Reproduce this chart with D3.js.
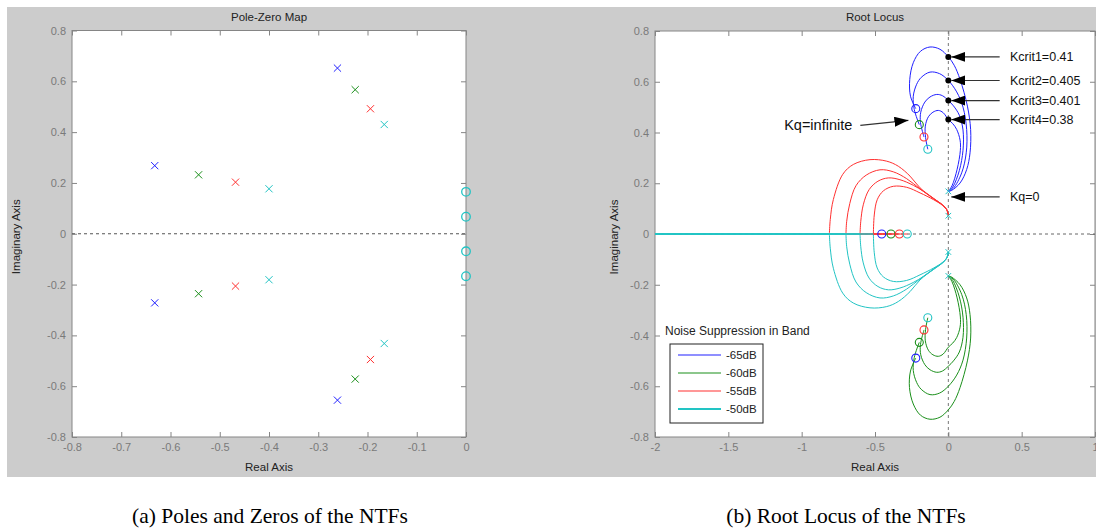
<!DOCTYPE html>
<html>
<head>
<meta charset="utf-8">
<script src="https://cdn.jsdelivr.net/npm/d3@7.9.0/dist/d3.min.js"></script>
<style>
  body { margin: 0; background: #fff; }
  svg { display: block; font-family: "Liberation Sans", Arial, sans-serif; }
</style>
</head>
<body>
<svg id="fig" width="1096" height="531"></svg>
<script>
// ---- data ----
const seriesNames = ['-65dB', '-60dB', '-55dB', '-50dB'];

// (a) pole-zero map, one list of poles per NTF
const pzPoles = [
  [[-0.261, 0.652], [-0.632, 0.268], [-0.632, -0.272], [-0.261, -0.655]],
  [[-0.225, 0.567], [-0.543, 0.232], [-0.543, -0.236], [-0.225, -0.572]],
  [[-0.194, 0.492], [-0.468, 0.203], [-0.468, -0.206], [-0.194, -0.495]],
  [[-0.166, 0.430], [-0.400, 0.177], [-0.400, -0.181], [-0.166, -0.432]]
];
const pzZeros = [[0, 0.165], [0, 0.067], [0, -0.069], [0, -0.167]];
const pzXTicks = [-0.8, -0.7, -0.6, -0.5, -0.4, -0.3, -0.2, -0.1, 0];
const yTicks = [-0.8, -0.6, -0.4, -0.2, 0, 0.2, 0.4, 0.6, 0.8];

// (b) root locus
const rlXTicks = [-2, -1.5, -1, -0.5, 0, 0.5, 1];
const rlPoles = [[0, 0.168], [0, 0.072], [0, -0.071], [0, -0.165]];
const rlZerosUpper = [[-0.222, 0.494], [-0.198, 0.431], [-0.166, 0.382], [-0.140, 0.334]];
const rlZerosLower = [[-0.222, -0.489], [-0.198, -0.427], [-0.166, -0.378], [-0.140, -0.330]];
const rlZerosReal = [-0.454, -0.391, -0.334, -0.280];
const breakIn = [-0.811, -0.698, -0.602, -0.511];

// upper right branches (pole 0+0.168j -> upper zeros)
const branchUR = [
  [[0,0.168],[0.023,0.172],[0.08,0.201],[0.125,0.254],[0.148,0.32],[0.152,0.412],[0.13,0.504],[0.08,0.609],[0.04,0.665],[0,0.698],[-0.057,0.728],[-0.125,0.737],[-0.19,0.72],[-0.239,0.675],[-0.263,0.609],[-0.258,0.543],[-0.222,0.494]],
  [[0,0.168],[0.034,0.18],[0.091,0.241],[0.122,0.32],[0.125,0.412],[0.1,0.5],[0.057,0.56],[0,0.605],[-0.06,0.632],[-0.125,0.638],[-0.185,0.617],[-0.216,0.59],[-0.239,0.543],[-0.232,0.49],[-0.198,0.431]],
  [[0,0.168],[0.03,0.185],[0.075,0.25],[0.1,0.33],[0.1,0.41],[0.075,0.468],[0.035,0.505],[0,0.526],[-0.04,0.545],[-0.079,0.55],[-0.125,0.54],[-0.16,0.52],[-0.188,0.48],[-0.19,0.44],[-0.166,0.382]],
  [[0,0.168],[0.025,0.19],[0.06,0.255],[0.082,0.33],[0.08,0.37],[0.057,0.412],[0.03,0.435],[0,0.451],[-0.035,0.478],[-0.068,0.487],[-0.105,0.48],[-0.136,0.462],[-0.157,0.425],[-0.155,0.38],[-0.14,0.334]]
];
// lower right branches
const branchLR = [
  [[0,-0.165],[0.023,-0.17],[0.08,-0.2],[0.125,-0.252],[0.148,-0.318],[0.152,-0.41],[0.13,-0.5],[0.08,-0.605],[0.04,-0.66],[0,-0.693],[-0.057,-0.722],[-0.125,-0.73],[-0.19,-0.714],[-0.239,-0.67],[-0.265,-0.605],[-0.258,-0.54],[-0.222,-0.489]],
  [[0,-0.165],[0.034,-0.178],[0.091,-0.238],[0.122,-0.318],[0.125,-0.41],[0.1,-0.497],[0.057,-0.556],[0,-0.6],[-0.06,-0.627],[-0.125,-0.633],[-0.185,-0.612],[-0.216,-0.585],[-0.239,-0.538],[-0.232,-0.486],[-0.198,-0.427]],
  [[0,-0.165],[0.03,-0.183],[0.075,-0.248],[0.1,-0.328],[0.1,-0.407],[0.075,-0.465],[0.035,-0.5],[0,-0.521],[-0.04,-0.54],[-0.079,-0.545],[-0.125,-0.535],[-0.16,-0.515],[-0.188,-0.476],[-0.19,-0.436],[-0.166,-0.378]],
  [[0,-0.165],[0.025,-0.188],[0.06,-0.252],[0.082,-0.327],[0.08,-0.367],[0.057,-0.408],[0.03,-0.43],[0,-0.446],[-0.035,-0.473],[-0.068,-0.482],[-0.105,-0.476],[-0.136,-0.458],[-0.157,-0.421],[-0.155,-0.376],[-0.14,-0.33]]
];
// upper left branches (pole 0+0.072j -> real-axis break-in)
const branchUL = [
  [[0,0.072],[-0.011,0.096],[-0.04,0.115],[-0.1,0.14],[-0.193,0.182],[-0.261,0.228],[-0.341,0.267],[-0.42,0.287],[-0.534,0.293],[-0.648,0.274],[-0.72,0.235],[-0.784,0.136],[-0.805,0.057],[-0.811,0]],
  [[0,0.072],[-0.011,0.096],[-0.04,0.115],[-0.1,0.14],[-0.193,0.178],[-0.284,0.218],[-0.375,0.245],[-0.466,0.253],[-0.56,0.232],[-0.63,0.19],[-0.672,0.12],[-0.693,0.05],[-0.698,0]],
  [[0,0.072],[-0.011,0.096],[-0.04,0.114],[-0.1,0.138],[-0.17,0.168],[-0.239,0.192],[-0.33,0.214],[-0.409,0.221],[-0.48,0.208],[-0.54,0.175],[-0.58,0.115],[-0.597,0.05],[-0.602,0]],
  [[0,0.072],[-0.011,0.096],[-0.04,0.113],[-0.1,0.135],[-0.193,0.162],[-0.284,0.184],[-0.375,0.188],[-0.443,0.17],[-0.485,0.135],[-0.505,0.075],[-0.511,0]]
];
// lower left branches
const branchLL = [
  [[0,-0.071],[-0.011,-0.095],[-0.04,-0.114],[-0.1,-0.139],[-0.193,-0.181],[-0.261,-0.227],[-0.341,-0.266],[-0.42,-0.286],[-0.534,-0.291],[-0.648,-0.272],[-0.72,-0.233],[-0.784,-0.135],[-0.805,-0.056],[-0.811,0]],
  [[0,-0.071],[-0.011,-0.095],[-0.04,-0.114],[-0.1,-0.139],[-0.193,-0.177],[-0.284,-0.217],[-0.375,-0.244],[-0.466,-0.252],[-0.56,-0.231],[-0.63,-0.189],[-0.672,-0.119],[-0.693,-0.05],[-0.698,0]],
  [[0,-0.071],[-0.011,-0.095],[-0.04,-0.113],[-0.1,-0.137],[-0.17,-0.167],[-0.239,-0.191],[-0.33,-0.213],[-0.409,-0.22],[-0.48,-0.207],[-0.54,-0.174],[-0.58,-0.114],[-0.597,-0.05],[-0.602,0]],
  [[0,-0.071],[-0.011,-0.095],[-0.04,-0.112],[-0.1,-0.134],[-0.193,-0.161],[-0.284,-0.183],[-0.375,-0.187],[-0.443,-0.169],[-0.485,-0.134],[-0.505,-0.074],[-0.511,0]]
];

const kcritLabels = ['Kcrit1=0.41', 'Kcrit2=0.405', 'Kcrit3=0.401', 'Kcrit4=0.38'];
const kcritIm = [0.698, 0.605, 0.526, 0.451];

// ---- styles ----
const colors = ['#2020ff', '#1a8f1a', '#ff3030', '#22c4c4'];
const axisGray = '#858585';
const textDark = '#222';

const svg = d3.select('#fig');
svg.append('rect').attr('x', 7).attr('y', 7).attr('width', 1089).attr('height', 470).attr('fill', '#cccccc');

const defs = svg.append('defs');
defs.append('marker').attr('id', 'ah')
  .attr('viewBox', '0 0 14 10').attr('refX', 14).attr('refY', 5)
  .attr('markerWidth', 14).attr('markerHeight', 10)
  .attr('markerUnits', 'userSpaceOnUse').attr('orient', 'auto')
  .append('path').attr('d', 'M0,0L14,5L0,10Z').attr('fill', '#000');

const fmt = d => String(+d.toFixed(2));

function panel(x, y, xTicks, title, clipId, ylabelX) {
  const [x0, x1] = x.range();
  const [y1, y0] = y.range();
  svg.append('rect').attr('x', x0).attr('y', y0).attr('width', x1 - x0).attr('height', y1 - y0).attr('fill', '#fff');
  defs.append('clipPath').attr('id', clipId)
    .append('rect').attr('x', x0).attr('y', y0).attr('width', x1 - x0).attr('height', y1 - y0);

  const axes = [
    [d3.axisBottom(x).tickValues(xTicks).tickFormat(fmt), `translate(0,${y1})`],
    [d3.axisTop(x).tickValues(xTicks).tickFormat(''), `translate(0,${y0})`],
    [d3.axisLeft(y).tickValues(yTicks).tickFormat(fmt), `translate(${x0},0)`],
    [d3.axisRight(y).tickValues(yTicks).tickFormat(''), `translate(${x1},0)`]
  ];
  axes.forEach(([ax, tr]) => {
    const g = svg.append('g').attr('transform', tr)
      .call(ax.tickSize(-5).tickPadding(6));
    g.select('.domain').remove();
    g.selectAll('line').attr('stroke', axisGray);
    g.selectAll('text').attr('fill', '#7a7a7a').style('font-size', '11px').style('font-family', '"Liberation Sans", Arial, sans-serif');
  });
  svg.append('rect').attr('x', x0).attr('y', y0).attr('width', x1 - x0).attr('height', y1 - y0)
    .attr('fill', 'none').attr('stroke', axisGray);

  svg.append('text').attr('x', (x0 + x1) / 2).attr('y', 21).attr('text-anchor', 'middle')
    .attr('fill', textDark).style('font-size', '11.5px').text(title);
  svg.append('text').attr('x', (x0 + x1) / 2).attr('y', 471).attr('text-anchor', 'middle')
    .attr('fill', textDark).style('font-size', '11.5px').text('Real Axis');
  svg.append('text').attr('transform', `translate(${ylabelX},${(y0 + y1) / 2 + 3}) rotate(-90)`)
    .attr('text-anchor', 'middle').attr('fill', textDark).style('font-size', '11.5px').text('Imaginary Axis');

  return svg.append('g').attr('clip-path', `url(#${clipId})`);
}

const xMark = (cx, cy, s) => `M${cx - s},${cy - s}L${cx + s},${cy + s}M${cx - s},${cy + s}L${cx + s},${cy - s}`;

// ---- (a) Pole-Zero Map ----
const pzX = d3.scaleLinear().domain([-0.8, 0]).range([72, 466]);
const pzY = d3.scaleLinear().domain([-0.8, 0.8]).range([437, 30.5]);
const gA = panel(pzX, pzY, pzXTicks, 'Pole-Zero Map', 'clipA', 20);

gA.append('line').attr('x1', pzX(-0.8)).attr('x2', pzX(0)).attr('y1', pzY(0)).attr('y2', pzY(0))
  .attr('stroke', '#555').attr('stroke-dasharray', '3,3');

pzPoles.forEach((poles, i) => {
  gA.selectAll(null).data(poles).join('path')
    .attr('d', d => xMark(pzX(d[0]), pzY(d[1]), 3.6))
    .attr('stroke', colors[i]).attr('fill', 'none').attr('stroke-width', 1);
});
// all four NTFs share these zeros; the last one (cyan) is the one seen on top
svg.selectAll(null).data(pzZeros).join('circle')
  .attr('cx', d => pzX(d[0])).attr('cy', d => pzY(d[1])).attr('r', 4.3)
  .attr('fill', 'none').attr('stroke', colors[3]).attr('stroke-width', 1.3);

// ---- (b) Root Locus ----
const rlX = d3.scaleLinear().domain([-2, 1]).range([655, 1095]);
const rlY = d3.scaleLinear().domain([-0.8, 0.8]).range([437, 31]);
const gB = panel(rlX, rlY, rlXTicks, 'Root Locus', 'clipB', 618);

gB.append('line').attr('x1', rlX(-2)).attr('x2', rlX(1)).attr('y1', rlY(0)).attr('y2', rlY(0))
  .attr('stroke', '#666').attr('stroke-dasharray', '3,3');
gB.append('line').attr('x1', rlX(0)).attr('x2', rlX(0)).attr('y1', rlY(0.8)).attr('y2', rlY(-0.8))
  .attr('stroke', '#777').attr('stroke-dasharray', '3,3');

const line = d3.line().x(d => rlX(d[0])).y(d => rlY(d[1])).curve(d3.curveCatmullRom.alpha(0.5));
[[branchUR, colors[0]], [branchLR, colors[1]], [branchUL, colors[2]], [branchLL, colors[3]]].forEach(([set, c]) => {
  gB.selectAll(null).data(set).join('path')
    .attr('d', line).attr('fill', 'none').attr('stroke', c).attr('stroke-width', 1);
});

// real-axis segments
gB.selectAll(null).data(breakIn).join('line')
  .attr('x1', d => rlX(d)).attr('x2', (d, i) => rlX(rlZerosReal[i]))
  .attr('y1', rlY(0)).attr('y2', rlY(0)).attr('stroke', colors[2]).attr('stroke-width', 1);
gB.selectAll(null).data(breakIn).join('line')
  .attr('x1', rlX(-2)).attr('x2', d => rlX(d))
  .attr('y1', rlY(0)).attr('y2', rlY(0)).attr('stroke', colors[3]).attr('stroke-width', 1.3);

// zeros per system
const zeroSets = seriesNames.map((s, i) => [rlZerosUpper[i], rlZerosLower[i], [rlZerosReal[i], 0]]);
zeroSets.forEach((zs, i) => {
  gB.selectAll(null).data(zs).join('circle')
    .attr('cx', d => rlX(d[0])).attr('cy', d => rlY(d[1])).attr('r', 4)
    .attr('fill', 'none').attr('stroke', colors[i]).attr('stroke-width', 1.1);
});
gB.selectAll(null).data(rlPoles).join('path')
  .attr('d', d => xMark(rlX(d[0]), rlY(d[1]), 2.8))
  .attr('stroke', colors[3]).attr('fill', 'none');

// Kcrit points and annotations
gB.selectAll(null).data(kcritIm).join('circle')
  .attr('cx', rlX(0)).attr('cy', d => rlY(d)).attr('r', 3).attr('fill', '#000');

const ann = svg.append('g').style('font-size', '12.5px').attr('fill', '#111');
kcritIm.forEach((k, i) => {
  ann.append('line').attr('x1', rlX(0.35)).attr('y1', rlY(k)).attr('x2', rlX(0.02)).attr('y2', rlY(k))
    .attr('stroke', '#333').attr('stroke-width', 1.2).attr('marker-end', 'url(#ah)');
  ann.append('text').attr('x', rlX(0.42)).attr('y', rlY(k) + 4.5).text(kcritLabels[i]);
});
ann.append('line').attr('x1', rlX(0.35)).attr('y1', rlY(0.146)).attr('x2', rlX(0.02)).attr('y2', rlY(0.146))
  .attr('stroke', '#333').attr('stroke-width', 1.2).attr('marker-end', 'url(#ah)');
ann.append('text').attr('x', rlX(0.42)).attr('y', rlY(0.146) + 4.5).text('Kq=0');
ann.append('line').attr('x1', rlX(-0.6)).attr('y1', rlY(0.428)).attr('x2', rlX(-0.272)).attr('y2', rlY(0.448))
  .attr('stroke', '#333').attr('stroke-width', 1.2).attr('marker-end', 'url(#ah)');
ann.append('text').attr('x', rlX(-0.655)).attr('y', rlY(0.43) + 5).attr('text-anchor', 'end')
  .style('font-size', '14.5px').text('Kq=infinite');

// legend
const lg = svg.append('g');
lg.append('text').attr('x', 665).attr('y', 335).attr('fill', textDark).style('font-size', '12px')
  .text('Noise Suppression in Band');
lg.append('rect').attr('x', 670).attr('y', 344).attr('width', 93).attr('height', 79)
  .attr('fill', '#fff').attr('stroke', '#222');
const lgRow = d3.scaleLinear().domain([0, 3]).range([355, 409]);
seriesNames.forEach((name, i) => {
  lg.append('line').attr('x1', 678).attr('x2', 721).attr('y1', lgRow(i)).attr('y2', lgRow(i))
    .attr('stroke', colors[i]).attr('stroke-width', i === 3 ? 2 : 1.2);
  lg.append('text').attr('x', 726).attr('y', lgRow(i) + 4).attr('fill', textDark)
    .style('font-size', '11.5px').text(name);
});

// captions
const cap = svg.append('g').style('font-family', '"Liberation Serif", "Times New Roman", serif')
  .style('font-size', '21.5px').attr('fill', '#000').attr('text-anchor', 'middle');
cap.append('text').attr('x', 270).attr('y', 523).text('(a) Poles and Zeros of the NTFs');
cap.append('text').attr('x', 846).attr('y', 523).text('(b) Root Locus of the NTFs');
</script>
</body>
</html>
